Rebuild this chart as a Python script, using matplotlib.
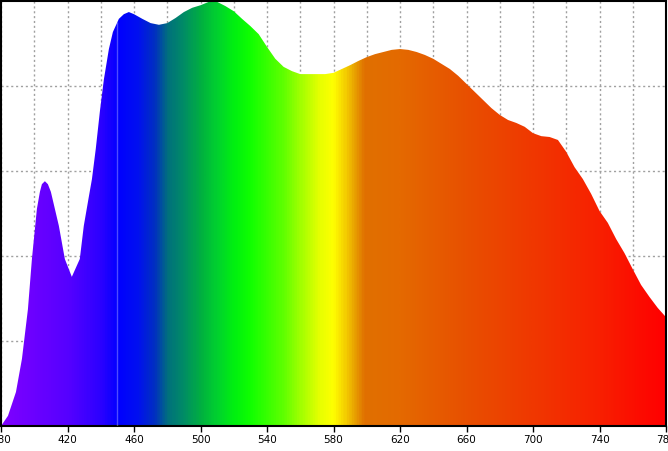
import numpy as np
import matplotlib.pyplot as plt
from matplotlib.colors import LinearSegmentedColormap

# spectrum (nm, relative intensity)
wavelength = [380, 384.2, 389, 392.6, 396.2, 398.6, 401.6, 403.4, 404.6, 406.4,
              408.2, 410, 414.8, 418.4, 422.6, 427.4, 429.8, 432.9, 434.7, 437,
              439.5, 441.9, 444.9, 447.3, 450.9, 453.9, 456.9, 460, 465, 470,
              475, 480, 485, 490,
              495, 500, 505, 510, 515, 520, 525, 530, 535, 540,
              545, 550, 555, 560, 565, 570, 575, 580, 585, 590,
              595, 600, 605, 610, 615, 620, 625, 630, 635, 640,
              645, 650, 655, 660, 665, 670, 675, 680, 685, 690,
              695, 700, 705, 710, 715, 720, 725, 730, 735, 740,
              745, 750, 755, 760, 765, 770, 775, 780]
intensity = [0.00, 0.024, 0.08, 0.158, 0.275, 0.393, 0.511, 0.551, 0.569, 0.576,
             0.569, 0.551, 0.471, 0.393, 0.351, 0.393, 0.471, 0.541, 0.581, 0.652,
             0.741, 0.816, 0.887, 0.927, 0.958, 0.969, 0.974, 0.969, 0.958, 0.948,
             0.944, 0.948, 0.96, 0.974,
             0.984, 0.99, 0.998, 0.998, 0.988, 0.976, 0.958, 0.941, 0.922, 0.892,
             0.864, 0.845, 0.835, 0.828, 0.828, 0.828, 0.828, 0.831, 0.84, 0.849,
             0.859, 0.868, 0.875, 0.88, 0.885, 0.887, 0.885, 0.88, 0.873, 0.864,
             0.852, 0.84, 0.824, 0.805, 0.786, 0.767, 0.748, 0.732, 0.72, 0.713,
             0.704, 0.689, 0.682, 0.68, 0.673, 0.645, 0.609, 0.581, 0.546, 0.506,
             0.478, 0.44, 0.407, 0.369, 0.332, 0.304, 0.278, 0.256]

# colour stops of the fill (wavelength, colour)
stop_nm = [380, 420, 440, 450, 462, 472, 480, 490, 500, 510, 520, 530, 550,
           560, 572, 580, 587, 593, 599, 620, 660, 700, 740, 780]
stop_col = ['#7f00ff', '#5500ff', '#2a00ff', '#0000ff', '#0010f0', '#0030c0',
            '#00707e', '#008e64', '#00b040', '#00d22e', '#00f010', '#10ff00',
            '#60ff00', '#a0ff00', '#e8ff00', '#ffff00', '#f5d000', '#e8a000',
            '#e07000', '#e46a00', '#e85000', '#f03800', '#f82000', '#ff0000']

x_ticks = np.arange(380, 781, 40)

fig = plt.figure(figsize=(6.68, 4.52), dpi=100)
ax = fig.add_axes([1 / 668, 25 / 452, 665 / 668, 425 / 452])

pos = [(n - 380) / 400 for n in stop_nm]
cmap = LinearSegmentedColormap.from_list('spec', list(zip(pos, stop_col)))

poly = ax.fill_between(wavelength, 0, intensity, color='none', lw=0, zorder=2)
grad = np.linspace(0, 1, 800).reshape(1, -1)
im = ax.imshow(grad, cmap=cmap, aspect='auto', extent=[380, 780, 0, 1],
               origin='lower', zorder=2, interpolation='bilinear')
clip = poly.get_paths()[0]
im.set_clip_path(clip, transform=ax.transData)

# faint light line at 450 nm
ax.vlines(450, 0, np.interp(450, wavelength, intensity), color='white',
          alpha=0.3, lw=1, zorder=3)

ax.set_xlim(380, 780)
ax.set_ylim(0, 1)
ax.set_xticks(x_ticks)
ax.set_xticks(np.arange(400, 780, 40), minor=True)
ax.set_yticks([0.2, 0.4, 0.6, 0.8])
ax.tick_params(axis='y', left=False, labelleft=False)
ax.tick_params(axis='x', which='major', length=4, width=1, pad=2, labelsize=7.5,
               direction='out')
ax.tick_params(axis='x', which='minor', length=0)
ax.grid(True, which='both', ls=(0, (1.5, 2)), color='#a0a0a0', lw=1)
ax.set_axisbelow(True)
for s in ax.spines.values():
    s.set_linewidth(1.5)
    s.set_color('black')

fig.savefig('out.png', dpi=100)
